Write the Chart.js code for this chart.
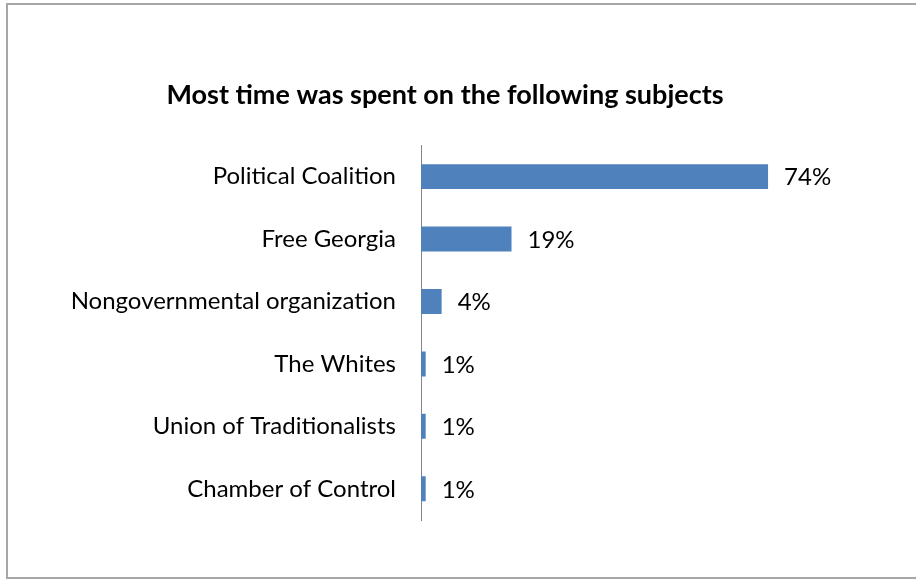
<!DOCTYPE html>
<html>
<head>
<meta charset="utf-8">
<script src="https://cdn.jsdelivr.net/npm/chart.js@4/dist/chart.umd.min.js"></script>
<style>
  html, body { margin: 0; padding: 0; background: #fff; }
  #wrap { position: relative; width: 916px; height: 579px; overflow: hidden; }
  #frame { position: absolute; left: 6px; top: 3px; width: 920px; height: 572px;
           border: 2px solid #a6a6a6; pointer-events: none; }
</style>
</head>
<body>
<div id="wrap">
  <canvas id="chart" width="916" height="579"></canvas>
  <div id="frame"></div>
</div>
<script>
const categories = ['Political Coalition', 'Free Georgia', 'Nongovernmental organization',
                    'The Whites', 'Union of Traditionalists', 'Chamber of Control'];
const shares = [74, 19.3, 4.4, 1, 1, 1];

const FONT = 'Lato, "Open Sans", sans-serif';

// rounded percentage next to every bar
const valueLabels = {
    id: 'valueLabels',
    afterDatasetsDraw(chart) {
        const ctx = chart.ctx;
        const meta = chart.getDatasetMeta(0);
        ctx.save();
        ctx.font = '24px ' + FONT;
        ctx.fillStyle = '#000';
        ctx.textAlign = 'left';
        ctx.textBaseline = 'middle';
        meta.data.forEach(function(bar, i) {
            ctx.fillText(Math.round(shares[i]) + '%', bar.x + 16, bar.y + 1);
        });
        ctx.restore();
    }
};

const ctx = document.getElementById('chart').getContext('2d');
new Chart(ctx, {
    type: 'bar',
    data: {
        labels: categories,
        datasets: [{
            data: shares,
            backgroundColor: '#4F81BD',
            borderWidth: 0,
            barPercentage: 0.4,
            categoryPercentage: 1
        }]
    },
    options: {
        indexAxis: 'y',
        responsive: false,
        animation: false,
        layout: { padding: { top: 0, right: 26, bottom: 59, left: 0 } },
        plugins: {
            legend: { display: false },
            tooltip: { enabled: false },
            title: {
                display: true,
                text: 'Most time was spent on the following subjects',
                color: '#000',
                font: { family: FONT, size: 27, weight: 'bold' },
                padding: { top: 79, bottom: 34 }
            }
        },
        scales: {
            x: { display: false, min: 0, max: 100 },
            y: {
                grid: { display: true, color: 'rgba(0,0,0,0)', drawTicks: false },
                border: { display: true, color: '#868686', width: 1 },
                ticks: { color: '#000', padding: 25, font: { family: FONT, size: 24 } },
                afterFit: function(scale) { scale.width = 421; }
            }
        }
    },
    plugins: [valueLabels]
});
</script>
</body>
</html>
